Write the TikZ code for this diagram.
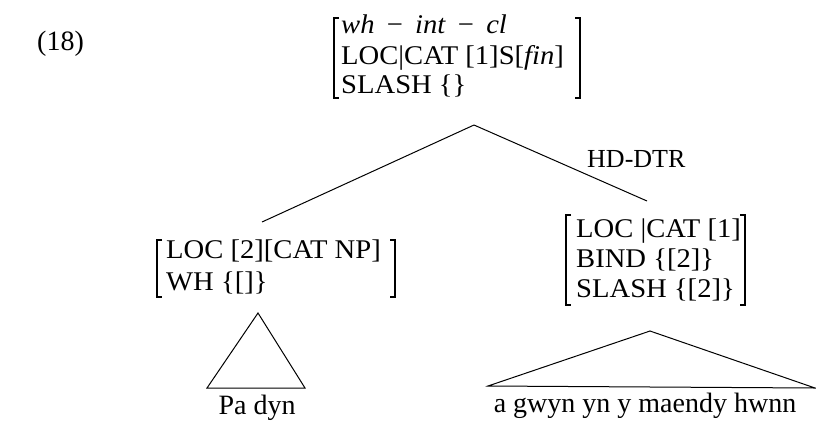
\documentclass[tikz,border=0pt]{standalone}
\usepackage{fontspec}
\setmainfont{Liberation Serif}
\newfontfamily\avmfont{Liberation Serif}[FakeStretch=1.06]
\begin{document}
\begin{tikzpicture}[x=1pt,y=-1pt,
  txt/.style={inner sep=0pt, anchor=base west, font=\fontsize{28}{32}\selectfont},
  avm/.style={inner sep=0pt, anchor=base west, font=\avmfont\fontsize{27}{30}\selectfont},
  br/.style={line width=1.3pt},
  edge/.style={line width=1pt}]
\useasboundingbox (0,0) rectangle (816,424);
\fill[white] (0,0) rectangle (816,424);
% example number
\node[txt] (num) at (37,50) {(18)};
% top AVM
\node[avm] (t1) at (341,33) {\textit{wh}\hspace{0.45em}−\hspace{0.45em}\textit{int}\hspace{0.45em}−\hspace{0.45em}\textit{cl}};
\node[avm] (t2) at (341,64) {LOC|CAT [1]S[\textit{fin}]};
\node[avm] (t3) at (341,93) {SLASH \{\}};
\draw[br] (339,18) -- (334,18) -- (334,98) -- (339,98);
\draw[br] (575,18) -- (580,18) -- (580,98) -- (575,98);
% branches
\coordinate (apex) at (474,125);
\coordinate (lend) at (262,222);
\coordinate (rend) at (647,201);
\draw[edge] (apex) -- (lend);
\draw[edge] (apex) -- (rend);
\node[txt, font=\fontsize{26}{30}\selectfont] (hd) at (587,167) {HD-DTR};
% left AVM
\node[avm] (l1) at (166,258) {LOC [2][CAT NP]};
\node[avm] (l2) at (166,290) {WH \{[]\}};
\draw[br] (162,240) -- (157,240) -- (157,297) -- (162,297);
\draw[br] (390,240) -- (395,240) -- (395,297) -- (390,297);
% right AVM
\node[avm] (r1) at (576,237) {LOC |CAT [1]};
\node[avm] (r2) at (576,267) {BIND \{[2]\}};
\node[avm] (r3) at (576,297) {SLASH \{[2]\}};
\draw[br] (571,215) -- (566,215) -- (566,305) -- (571,305);
\draw[br] (740,215) -- (745,215) -- (745,305) -- (740,305);
% triangles
\coordinate (la) at (258,313);
\coordinate (lb1) at (207,388);
\coordinate (lb2) at (305,388);
\draw[edge] (lb1) -- (la) -- (lb2) -- cycle;
\coordinate (ra) at (650,331);
\coordinate (rb1) at (488,386);
\coordinate (rb2) at (815,388);
\draw[edge] (rb1) -- (ra) -- (rb2) -- cycle;
% leaves
\node[txt, anchor=base] (pa) at (257,414) {Pa dyn};
\node[txt, anchor=base] (ag) at (645,412) {a gwyn yn y maendy hwnn};
\end{tikzpicture}
\end{document}
